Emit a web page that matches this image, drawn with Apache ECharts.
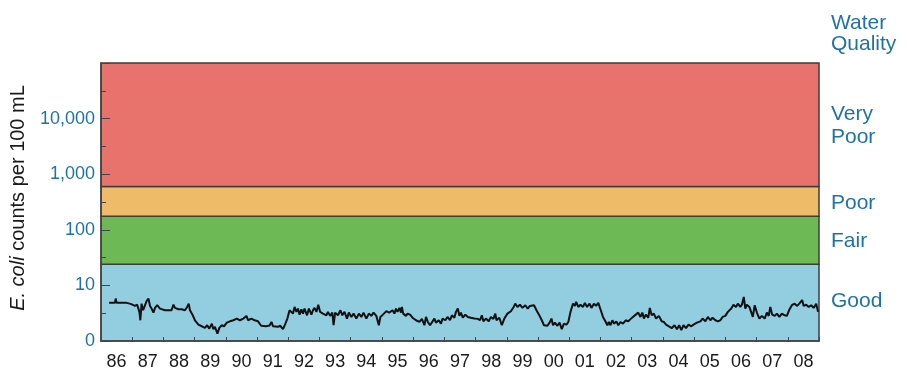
<!DOCTYPE html>
<html>
<head>
<meta charset="utf-8">
<script src="https://cdn.jsdelivr.net/npm/echarts@6/dist/echarts.min.js"></script>
<style>
html,body{margin:0;padding:0;background:#fff;}
#chart{width:908px;height:374px;}
</style>
</head>
<body>
<div id="chart"></div>
<script>
// ---- data ----
const yearLabels = ['86','87','88','89','90','91','92','93','94','95','96','97','98','99','00','01','02','03','04','05','06','07','08'];

const sampleYears = [
1986.26,1986.45,1986.47,1986.50,1986.82,1986.95,
1987.09,1987.16,1987.23,1987.26,1987.30,1987.35,1987.41,1987.46,1987.52,1987.57,1987.62,1987.68,1987.73,1987.80,1987.89,
1988.05,1988.26,1988.32,1988.37,1988.42,1988.48,1988.58,1988.69,1988.76,1988.81,1988.85,1988.94,
1989.01,1989.12,1989.23,1989.33,1989.40,1989.47,1989.55,1989.60,1989.65,1989.73,1989.79,1989.87,1989.94,
1990.03,1990.13,1990.24,1990.35,1990.45,1990.56,1990.66,1990.71,1990.82,1990.92,
1991.03,1991.13,1991.29,1991.40,1991.46,1991.51,1991.56,1991.67,1991.74,1991.83,1991.88,1991.97,
1992.04,1992.10,1992.15,1992.20,1992.26,1992.31,1992.36,1992.42,1992.47,1992.52,1992.60,1992.66,1992.74,1992.79,1992.84,1992.90,1992.96,
1993.02,1993.11,1993.22,1993.27,1993.34,1993.41,1993.45,1993.50,1993.59,1993.67,1993.73,1993.80,1993.88,1993.94,
1994.02,1994.09,1994.18,1994.26,1994.34,1994.41,1994.50,1994.58,1994.66,1994.73,1994.82,1994.90,1994.95,
1995.03,1995.14,1995.23,1995.34,1995.40,1995.45,1995.50,1995.56,1995.61,1995.64,1995.68,1995.77,1995.82,1995.90,1995.98,
1996.09,1996.20,1996.28,1996.36,1996.41,1996.47,1996.54,1996.60,1996.68,1996.73,1996.82,1996.89,1996.94,
1997.03,1997.10,1997.18,1997.24,1997.32,1997.37,1997.43,1997.48,1997.53,1997.59,1997.67,1997.75,1997.85,1997.96,
1998.07,1998.14,1998.20,1998.25,1998.33,1998.42,1998.49,1998.57,1998.63,1998.67,1998.76,1998.84,1998.92,
1999.02,1999.13,1999.22,1999.27,1999.34,1999.42,1999.50,1999.59,1999.67,1999.74,1999.80,1999.87,1999.95,
2000.03,2000.12,2000.19,2000.30,2000.37,2000.43,2000.48,2000.54,2000.62,2000.69,2000.76,2000.83,2000.91,2000.97,
2001.04,2001.12,2001.18,2001.22,2001.29,2001.36,2001.44,2001.50,2001.57,2001.65,2001.71,2001.79,2001.86,2001.93,
2002.01,2002.08,2002.17,2002.22,2002.27,2002.32,2002.38,2002.44,2002.51,2002.57,2002.64,2002.72,2002.81,2002.89,2002.97,
2003.04,2003.13,2003.21,2003.28,2003.34,2003.39,2003.45,2003.53,2003.58,2003.64,2003.71,2003.78,2003.87,2003.96,
2004.03,2004.10,2004.19,2004.28,2004.37,2004.45,2004.52,2004.59,2004.66,2004.74,2004.82,2004.91,2004.98,
2005.09,2005.20,2005.27,2005.36,2005.44,2005.52,2005.59,2005.68,2005.76,2005.84,2005.91,
2006.00,2006.08,2006.19,2006.26,2006.34,2006.40,2006.48,2006.53,2006.59,2006.64,2006.69,2006.77,2006.83,2006.88,2006.94,
2007.01,2007.09,2007.17,2007.26,2007.33,2007.39,2007.44,2007.50,2007.58,2007.65,2007.73,2007.81,2007.90,2007.97,
2008.04,2008.13,2008.22,2008.29,2008.37,2008.46,2008.51,2008.59,2008.67,2008.75,2008.83,2008.91,2008.97
];

const ecoliCounts = [
4.85,4.85,5.8,4.85,4.85,4.65,
4.28,4.5,3.34,2.36,4.7,3.57,4.4,5.2,5.8,4.28,3.83,3.24,3.94,4.4,3.83,
3.57,3.57,4.5,3.94,4.28,3.73,3.73,3.57,4.1,4.7,3.57,2.9,
2.36,1.97,1.84,1.72,1.92,1.67,2.05,1.63,1.79,1.35,1.72,1.92,1.84,
2.14,2.26,2.36,2.53,2.36,2.53,2.83,2.36,2.53,2.36,
2.26,1.88,1.85,1.9,2.2,1.85,2.0,1.8,1.88,1.63,1.88,2.53,
3.57,3.83,3.11,4.1,3.34,3.83,2.98,3.73,3.11,3.83,2.9,3.83,2.98,3.57,3.94,3.34,4.5,
3.34,3.11,2.9,3.34,2.83,3.24,1.92,3.24,2.9,3.57,2.9,3.34,2.53,3.24,
2.71,3.11,2.53,3.11,2.71,3.24,2.53,3.11,2.83,3.24,2.83,1.92,2.71,
2.98,3.45,3.24,3.57,3.11,3.83,3.34,3.94,3.24,4.1,3.11,2.83,3.11,2.98,2.62,
2.36,2.2,2.5,1.92,2.71,2.2,1.92,2.05,2.53,2.14,2.36,2.05,2.53,
2.36,2.71,2.36,2.9,2.62,3.34,3.83,2.83,3.24,2.62,2.98,2.71,2.62,2.53,
2.5,2.36,2.9,2.26,2.53,2.26,2.71,2.5,3.11,2.36,2.62,1.92,2.53,
3.11,3.43,4.1,4.7,4.1,4.5,3.94,4.4,3.83,4.28,3.94,4.4,3.57,
2.98,2.36,1.92,1.88,2.14,2.53,1.92,2.14,1.88,2.14,1.63,2.05,1.97,2.2,
3.34,4.7,4.28,5.05,4.1,4.5,4.1,4.85,4.1,4.7,3.94,4.7,4.28,4.85,
3.57,2.71,2.2,1.92,2.2,1.92,2.36,2.05,2.26,1.92,2.2,2.05,2.36,2.26,2.5,
2.71,2.98,3.24,2.71,3.24,2.53,2.98,2.62,3.94,2.9,3.11,2.53,2.83,2.26,
2.2,1.97,1.84,1.7,1.92,1.63,1.92,1.58,1.92,1.7,1.97,1.84,1.97,
2.14,2.26,2.53,2.26,2.71,2.36,2.62,2.36,2.26,2.36,2.71,
2.83,3.34,3.83,4.5,4.1,4.7,4.1,4.5,6.2,3.83,4.5,4.1,4.28,2.71,4.4,
3.24,2.53,2.83,2.53,3.24,2.83,4.1,2.98,2.83,3.11,2.71,3.11,2.9,2.83,
3.57,4.4,4.7,4.28,4.7,5.45,4.28,4.5,4.1,4.4,3.94,4.7,3.34
];

// water quality class thresholds (counts per 100 mL)
const bandNames = ['Good', 'Fair', 'Poor', 'Very Poor'];
const bandLimits = [1, 24, 175, 600, 100000];
const bandColors = ['#93CEE0', '#6DB955', '#EEBC68', '#E8736D'];

// ---- chart ----
const FONT = '"Liberation Sans", Arial, Helvetica, sans-serif';
const BLUE = '#1f72a7';
const AXIS = '#444';

const lineData = sampleYears.map((y, i) => [y, ecoliCounts[i]]);
const areas = bandNames.map((n, i) => [
  { yAxis: bandLimits[i], itemStyle: { color: bandColors[i] } },
  { yAxis: bandLimits[i + 1] }
]);

const chart = echarts.init(document.getElementById('chart'), null, { renderer: 'canvas' });
chart.setOption({
  animation: false,
  backgroundColor: '#fff',
  textStyle: { fontFamily: FONT },
  grid: { left: 101, right: 89, top: 63, bottom: 33, show: false },
  xAxis: [
    {
      type: 'value', min: 1986, max: 2009, interval: 1, z: 10,
      axisLine: { show: true, lineStyle: { color: AXIS, width: 1.5 } },
      axisTick: { show: true, inside: true, length: 4, lineStyle: { color: AXIS, width: 1 } },
      axisLabel: { show: false },
      splitLine: { show: false }
    },
    {
      type: 'category', data: yearLabels, position: 'bottom', boundaryGap: true, z: 10,
      axisLine: { show: false }, axisTick: { show: false },
      axisLabel: { color: '#1a1a1a', fontSize: 18, fontFamily: FONT, margin: 12, interval: 0 },
      splitLine: { show: false }
    }
  ],
  yAxis: [
    {
      type: 'log', logBase: 10, min: 1, max: 100000, splitNumber: 5, z: 10,
      axisLine: { show: true, lineStyle: { color: AXIS, width: 1.5 } },
      axisTick: { show: true, inside: true, length: 9, lineStyle: { color: AXIS, width: 1 } },
      axisLabel: {
        color: BLUE, fontSize: 18, fontFamily: FONT, margin: 6,
        formatter: function (v) {
          if (v <= 1) return '0';
          if (v >= 100000) return '';
          return String(Math.round(v)).replace(/\B(?=(\d{3})+(?!\d))/g, ',');
        }
      },
      splitLine: { show: false }
    },
    {
      type: 'value', min: 0, max: 5, interval: 0.5, position: 'left', offset: 0, z: 10,
      axisLine: { show: false },
      axisTick: { show: true, inside: true, length: 5, lineStyle: { color: AXIS, width: 1 } },
      axisLabel: { show: false },
      splitLine: { show: false }
    }
  ],
  series: [
    {
      type: 'line', xAxisIndex: 0, yAxisIndex: 0,
      data: lineData, showSymbol: false, symbol: 'none',
      lineStyle: { color: '#111', width: 2 },
      z: 5,
      markArea: {
        silent: true,
        itemStyle: { borderColor: '#3d3d3d', borderWidth: 1.5 },
        data: areas
      }
    }
  ],
  graphic: [
    {
      type: 'text', x: 18, y: 198, rotation: Math.PI / 2,
      style: {
        text: '{i|E. coli} counts per 100 mL',
        fill: '#1a1a1a', font: '20px ' + FONT,
        textAlign: 'center', textVerticalAlign: 'middle',
        rich: { i: { fontStyle: 'italic', fontSize: 20, fontFamily: FONT, fill: '#1a1a1a' } }
      }
    },
    { type: 'text', x: 831, y: 23, style: { text: 'Water', fill: BLUE, font: '21px ' + FONT, textVerticalAlign: 'middle' } },
    { type: 'text', x: 831, y: 44, style: { text: 'Quality', fill: BLUE, font: '21px ' + FONT, textVerticalAlign: 'middle' } },
    { type: 'text', x: 831, y: 114, style: { text: 'Very', fill: BLUE, font: '21px ' + FONT, textVerticalAlign: 'middle' } },
    { type: 'text', x: 831, y: 137, style: { text: 'Poor', fill: BLUE, font: '21px ' + FONT, textVerticalAlign: 'middle' } },
    { type: 'text', x: 831, y: 203, style: { text: 'Poor', fill: BLUE, font: '21px ' + FONT, textVerticalAlign: 'middle' } },
    { type: 'text', x: 831, y: 241, style: { text: 'Fair', fill: BLUE, font: '21px ' + FONT, textVerticalAlign: 'middle' } },
    { type: 'text', x: 831, y: 301, style: { text: 'Good', fill: BLUE, font: '21px ' + FONT, textVerticalAlign: 'middle' } }
  ]
});
</script>
</body>
</html>
